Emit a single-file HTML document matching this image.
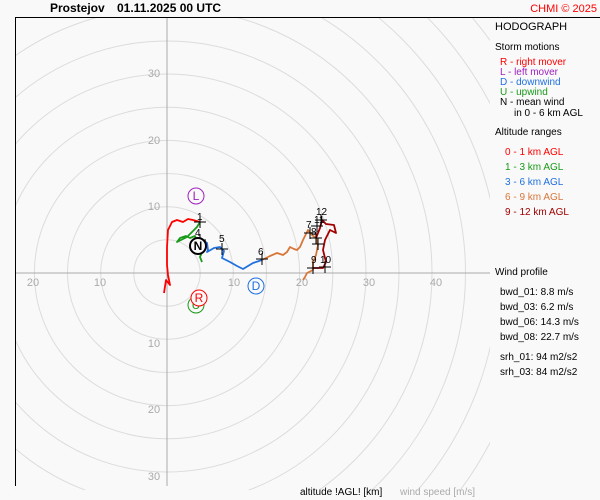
<!DOCTYPE html>
<html><head><style>
html,body{margin:0;padding:0;width:600px;height:500px;overflow:hidden;background:#f9f9f9}
svg{display:block;font-family:"Liberation Sans",sans-serif}
</style></head><body>
<svg width="600" height="500" viewBox="0 0 600 500" xmlns="http://www.w3.org/2000/svg">
<rect width="600" height="500" fill="#f9f9f9"/>
<defs><clipPath id="c"><rect x="15" y="18" width="475" height="472"/></clipPath></defs>
<g clip-path="url(#c)" fill="none" stroke="#dcdcdc" stroke-width="1">
<circle cx="167" cy="273" r="33.2"/><circle cx="167" cy="273" r="66.3"/><circle cx="167" cy="273" r="99.5"/>
<circle cx="167" cy="273" r="132.6"/><circle cx="167" cy="273" r="165.8"/><circle cx="167" cy="273" r="199"/>
<circle cx="167" cy="273" r="232"/><circle cx="167" cy="273" r="265"/><circle cx="167" cy="273" r="298.5"/>
<circle cx="167" cy="273" r="331.6"/><circle cx="167" cy="273" r="364.8"/><circle cx="167" cy="273" r="398"/>
<circle cx="167" cy="273" r="431"/><circle cx="167" cy="273" r="464"/>
</g>
<line x1="167" y1="18" x2="167" y2="486" stroke="#aaa"/>
<line x1="15" y1="273" x2="490" y2="273" stroke="#aaa"/>
<line x1="15" y1="17.5" x2="600" y2="17.5" stroke="#000"/>
<line x1="15.5" y1="17" x2="15.5" y2="486" stroke="#000"/>
<g fill="#aaa" font-size="11">
<text x="154" y="210" text-anchor="middle">10</text><text x="154" y="144" text-anchor="middle">20</text><text x="154" y="77" text-anchor="middle">30</text>
<text x="154" y="347" text-anchor="middle">10</text><text x="154" y="413" text-anchor="middle">20</text><text x="154" y="480" text-anchor="middle">30</text>
<text x="100" y="286" text-anchor="middle">10</text><text x="33" y="286" text-anchor="middle">20</text>
<text x="234" y="286" text-anchor="middle">10</text><text x="302" y="286" text-anchor="middle">20</text><text x="369" y="286" text-anchor="middle">30</text><text x="436" y="286" text-anchor="middle">40</text>
</g>
<g fill="none" stroke-width="1.8" stroke-linejoin="round">
<polyline stroke="#f00" points="164,293 166,280 170,285 168,275 167,265 167,247 168,230 172,222 177,220 183,222 188,219 193,220 200,222"/>
<polyline stroke="#1a9a1a" points="200,222 197,227 187,237 177,242 180,238 186,236 190,238 195,236 198,246 202,252 200,257 202,262"/>
<polyline stroke="#2070e0" points="200,238 207,243 208,250 207,252 214,248 220,247 224,251 222,258 230,262 237,266 243,269 253,263 262,260"/>
<polyline stroke="#d8763a" points="262,260 270,256 277,253 283,255 287,252 290,247 294,249 297,250 300,247 303,240 308,230 312,235 316,238 318,245 316,255 313,262 313,270 307,273 305,277 303,280"/>
<polyline stroke="#a00000" points="313,268 323,268 326,262 323,250 325,240 330,230 336,233 334,225 326,224 322,220 320,228 316,238"/>
</g>
<g stroke="#000" stroke-width="1">
<path d="M194,222h12M200,216v12M194,240h12M200,234v12M216,249h12M222,243v12M256,259h12M262,253v12M304,233h12M310,227v12M310,238h12M316,232v12M312,244h12M318,238v12M307,268h12M313,262v12M319,267h12M325,261v12M315,220h12M321,214v12M311,226h12M317,220v12"/>
</g>
<g font-size="10" fill="#000">
<text x="197" y="220">1</text><text x="195" y="236">4</text><text x="194" y="250">3</text><text x="219" y="242">5</text><text x="258" y="255">6</text>
<text x="306" y="228">7</text><text x="311" y="235">8</text><text x="311" y="263">9</text><text x="320" y="263">10</text><text x="314" y="223">11</text><text x="316" y="215">12</text>
</g>
<g font-size="12" text-anchor="middle">
<circle cx="196" cy="196" r="8" fill="#f9f9f9" stroke="#a020c0"/><text x="196" y="200" fill="#a020c0">L</text>
<circle cx="196" cy="305" r="8" fill="#f9f9f9" stroke="#1a9a1a"/><text x="196" y="309" fill="#1a9a1a">U</text>
<circle cx="199" cy="298" r="8" fill="#f9f9f9" stroke="#f00"/><text x="199" y="302" fill="#f00">R</text>
<circle cx="256" cy="286" r="8" fill="#f9f9f9" stroke="#2070e0"/><text x="256" y="290" fill="#2070e0">D</text>
<circle cx="198" cy="246" r="8" fill="#f9f9f9" stroke="#000" stroke-width="2"/><text x="198" y="250" fill="#000" font-weight="bold">N</text>
</g>
<text x="50" y="12" font-size="12" font-weight="bold">Prostejov</text>
<text x="117" y="12" font-size="12" font-weight="bold">01.11.2025 00 UTC</text>
<text x="597" y="12" font-size="11" fill="#f00" text-anchor="end">CHMI © 2025</text>
<g font-size="10">
<text x="495" y="30" font-size="11">HODOGRAPH</text>
<text x="495" y="50">Storm motions</text>
<text x="500" y="65" fill="#f00">R - right mover</text>
<text x="500" y="75" fill="#a020c0">L - left mover</text>
<text x="500" y="85" fill="#2070e0">D - downwind</text>
<text x="500" y="95" fill="#1a9a1a">U - upwind</text>
<text x="500" y="105">N - mean wind</text>
<text x="514" y="116">in 0 - 6 km AGL</text>
<text x="495" y="135">Altitude ranges</text>
<text x="505" y="155" fill="#f00">0 - 1 km AGL</text>
<text x="505" y="170" fill="#1a9a1a">1 - 3 km AGL</text>
<text x="505" y="185" fill="#2070e0">3 - 6 km AGL</text>
<text x="505" y="200" fill="#d8763a">6 - 9 km AGL</text>
<text x="505" y="215" fill="#a00000">9 - 12 km AGL</text>
<text x="495" y="275">Wind profile</text>
<text x="500" y="295">bwd_01: 8.8 m/s</text>
<text x="500" y="310">bwd_03: 6.2 m/s</text>
<text x="500" y="325">bwd_06: 14.3 m/s</text>
<text x="500" y="340">bwd_08: 22.7 m/s</text>
<text x="500" y="360">srh_01: 94 m2/s2</text>
<text x="500" y="375">srh_03: 84 m2/s2</text>
<text x="300" y="495">altitude !AGL! [km]</text>
<text x="400" y="495" fill="#aaa">wind speed [m/s]</text>
</g>
</svg>
</body></html>
